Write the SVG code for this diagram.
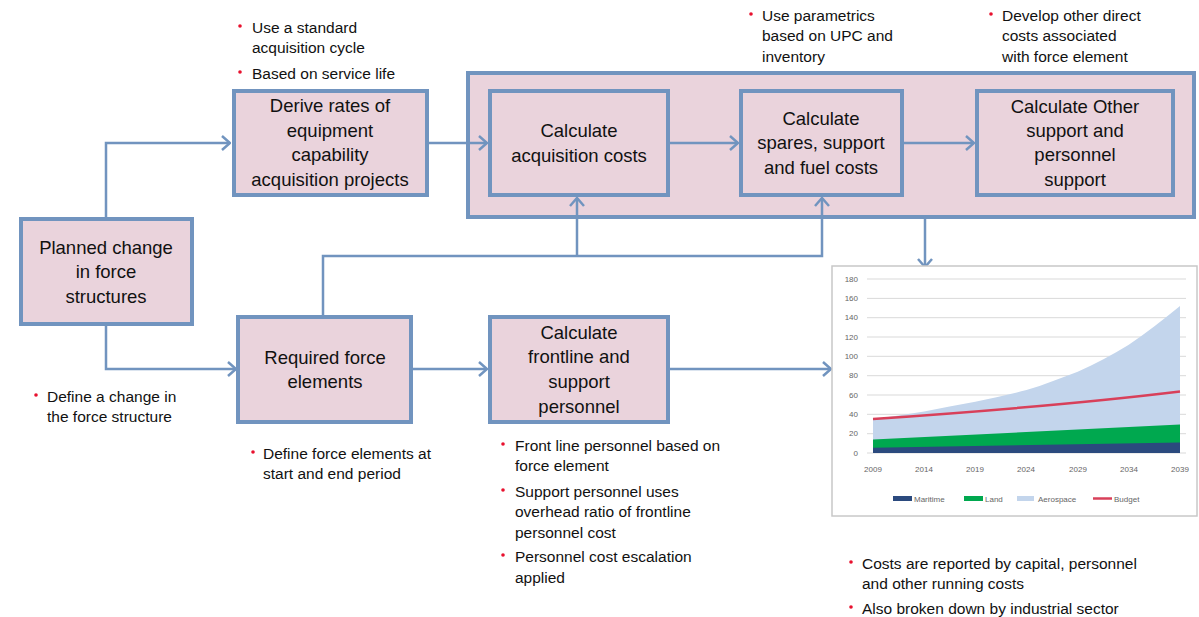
<svg xmlns="http://www.w3.org/2000/svg" width="1199" height="617" viewBox="0 0 1199 617">
<defs>
<style>
.box{fill:#ead3dc;stroke:#7194bf;stroke-width:4}
.t{font-family:"Liberation Sans",Arial,sans-serif;font-size:18.5px;fill:#111;text-anchor:middle}
.s{font-family:"Liberation Sans",Arial,sans-serif;font-size:15.5px;fill:#111}
.b{fill:#e8102e}
.c{fill:none;stroke:#7194bf;stroke-width:2.5}
.ax{font-family:"Liberation Sans",Arial,sans-serif;font-size:8px;fill:#666}
.g{stroke:#d9d9d9;stroke-width:1}
</style>
<marker id="arr" viewBox="0 0 10 16" refX="9" refY="8" markerWidth="10" markerHeight="16" orient="auto" markerUnits="userSpaceOnUse">
<path d="M1,1 L9,8 L1,15" fill="none" stroke="#7194bf" stroke-width="2.5"/>
</marker>
</defs>
<rect width="1199" height="617" fill="#fff"/>

<g id="container"><rect class="box" x="468" y="73" width="726" height="144"/></g>

<g id="connectors">
<path class="c" d="M106,219 V143 H230" marker-end="url(#arr)"/>
<path class="c" d="M106,324 V369 H236" marker-end="url(#arr)"/>
<path class="c" d="M427,143 H487" marker-end="url(#arr)"/>
<path class="c" d="M668,143 H738" marker-end="url(#arr)"/>
<path class="c" d="M902,143 H974" marker-end="url(#arr)"/>
<path class="c" d="M323,317 V256 H822 V198" marker-end="url(#arr)"/>
<path class="c" d="M577,256 V198" marker-end="url(#arr)"/>
<path class="c" d="M925,219 V267" marker-end="url(#arr)"/>
<path class="c" d="M411,369 H487" marker-end="url(#arr)"/>
<path class="c" d="M668,369 H831" marker-end="url(#arr)"/>
</g>

<g id="planned">
<rect class="box" x="21" y="219" width="171" height="105"/>
<text class="t" x="106" y="254">Planned change</text>
<text class="t" x="106" y="278">in force</text>
<text class="t" x="106" y="303">structures</text>
</g>

<g id="derive">
<rect class="box" x="234" y="91" width="193" height="104"/>
<text class="t" x="330" y="112">Derive rates of</text>
<text class="t" x="330" y="137">equipment</text>
<text class="t" x="330" y="161">capability</text>
<text class="t" x="330" y="186">acquisition projects</text>
</g>

<g id="acq">
<rect class="box" x="490" y="91" width="178" height="104"/>
<text class="t" x="579" y="137">Calculate</text>
<text class="t" x="579" y="162">acquisition costs</text>
</g>

<g id="spares">
<rect class="box" x="741" y="91" width="161" height="104"/>
<text class="t" x="821" y="125">Calculate</text>
<text class="t" x="821" y="149">spares, support</text>
<text class="t" x="821" y="174">and fuel costs</text>
</g>

<g id="other">
<rect class="box" x="977" y="91" width="196" height="104"/>
<text class="t" x="1075" y="113">Calculate Other</text>
<text class="t" x="1075" y="137">support and</text>
<text class="t" x="1075" y="161">personnel</text>
<text class="t" x="1075" y="186">support</text>
</g>

<g id="required">
<rect class="box" x="238" y="317" width="173" height="105"/>
<text class="t" x="325" y="364">Required force</text>
<text class="t" x="325" y="388">elements</text>
</g>

<g id="frontline">
<rect class="box" x="490" y="317" width="178" height="105"/>
<text class="t" x="579" y="339">Calculate</text>
<text class="t" x="579" y="363">frontline and</text>
<text class="t" x="579" y="388">support</text>
<text class="t" x="579" y="413">personnel</text>
</g>

<g id="notes">
<circle class="b" cx="240" cy="26" r="1.8"/>
<text class="s" x="252" y="33">Use a  standard</text>
<text class="s" x="252" y="53">acquisition cycle</text>
<circle class="b" cx="240" cy="72" r="1.8"/>
<text class="s" x="252" y="79">Based on service life</text>

<circle class="b" cx="751" cy="14" r="1.8"/>
<text class="s" x="762" y="21">Use parametrics</text>
<text class="s" x="762" y="41">based on UPC and</text>
<text class="s" x="762" y="62">inventory</text>

<circle class="b" cx="991" cy="14" r="1.8"/>
<text class="s" x="1002" y="21">Develop other direct</text>
<text class="s" x="1002" y="41">costs associated</text>
<text class="s" x="1002" y="62">with force element</text>

<circle class="b" cx="36" cy="395" r="1.8"/>
<text class="s" x="47" y="402">Define a  change in</text>
<text class="s" x="47" y="422">the force structure</text>

<circle class="b" cx="253" cy="452" r="1.8"/>
<text class="s" x="263" y="459">Define force elements at</text>
<text class="s" x="263" y="479">start and end period</text>

<circle class="b" cx="503" cy="444" r="1.8"/>
<text class="s" x="515" y="451">Front line personnel based on</text>
<text class="s" x="515" y="471">force element</text>
<circle class="b" cx="503" cy="490" r="1.8"/>
<text class="s" x="515" y="497">Support personnel uses</text>
<text class="s" x="515" y="517">overhead ratio of frontline</text>
<text class="s" x="515" y="538">personnel cost</text>
<circle class="b" cx="503" cy="555" r="1.8"/>
<text class="s" x="515" y="562">Personnel cost escalation</text>
<text class="s" x="515" y="583">applied</text>

<circle class="b" cx="851" cy="562" r="1.8"/>
<text class="s" x="862" y="569">Costs are reported by capital, personnel</text>
<text class="s" x="862" y="589">and other running costs</text>
<circle class="b" cx="851" cy="607" r="1.8"/>
<text class="s" x="862" y="614">Also broken down by industrial sector</text>
</g>

<g id="chart">
<rect x="832" y="266" width="365" height="250" fill="#fff" stroke="#c8c8c8" stroke-width="1.5"/>
<g>
<line class="g" x1="867" y1="279" x2="1186" y2="279"/>
<line class="g" x1="867" y1="298.4" x2="1186" y2="298.4"/>
<line class="g" x1="867" y1="317.7" x2="1186" y2="317.7"/>
<line class="g" x1="867" y1="337" x2="1186" y2="337"/>
<line class="g" x1="867" y1="356.3" x2="1186" y2="356.3"/>
<line class="g" x1="867" y1="375.7" x2="1186" y2="375.7"/>
<line class="g" x1="867" y1="395" x2="1186" y2="395"/>
<line class="g" x1="867" y1="414.3" x2="1186" y2="414.3"/>
<line class="g" x1="867" y1="433.7" x2="1186" y2="433.7"/>
<line class="g" x1="867" y1="453" x2="1186" y2="453"/>
</g>
<path d="M873,419.2 C890,416.6 907,414 924.2,411.4 C941,408 958,405 975.3,401.7 C992,398 1009,394.5 1026.5,390.1 C1044,385 1061,378 1077.7,371.8 C1095,364 1112,355 1128.8,344.7 C1146,333 1163,320 1180,306 L1180,453 L873,453 Z" fill="#c3d5ec"/>
<path d="M873,439.5 L1180,424.5 L1180,453 L873,453 Z" fill="#00a84f"/>
<path d="M873,447.7 L1180,442.4 L1180,453 L873,453 Z" fill="#2b4a7e"/>
<path d="M873,419 C975,412 1077,404 1180,391.5" fill="none" stroke="#d8405a" stroke-width="2.5"/>
<g class="ax" text-anchor="end">
<text x="858" y="282">180</text>
<text x="858" y="301">160</text>
<text x="858" y="320">140</text>
<text x="858" y="340">120</text>
<text x="858" y="359">100</text>
<text x="858" y="378">80</text>
<text x="858" y="398">60</text>
<text x="858" y="417">40</text>
<text x="858" y="436">20</text>
<text x="858" y="456">0</text>
</g>
<g class="ax" text-anchor="middle">
<text x="873" y="472">2009</text>
<text x="924" y="472">2014</text>
<text x="975" y="472">2019</text>
<text x="1026" y="472">2024</text>
<text x="1078" y="472">2029</text>
<text x="1129" y="472">2034</text>
<text x="1180" y="472">2039</text>
</g>
<rect x="893" y="496" width="19" height="5" fill="#2b4a7e"/>
<text class="ax" x="914" y="502">Maritime</text>
<rect x="964" y="496" width="19" height="5" fill="#00a84f"/>
<text class="ax" x="985" y="502">Land</text>
<rect x="1017" y="496" width="17" height="5" fill="#c3d5ec"/>
<text class="ax" x="1038" y="502">Aerospace</text>
<line x1="1093" y1="498.5" x2="1112" y2="498.5" stroke="#d8405a" stroke-width="2.5"/>
<text class="ax" x="1114" y="502">Budget</text>
</g>
</svg>
